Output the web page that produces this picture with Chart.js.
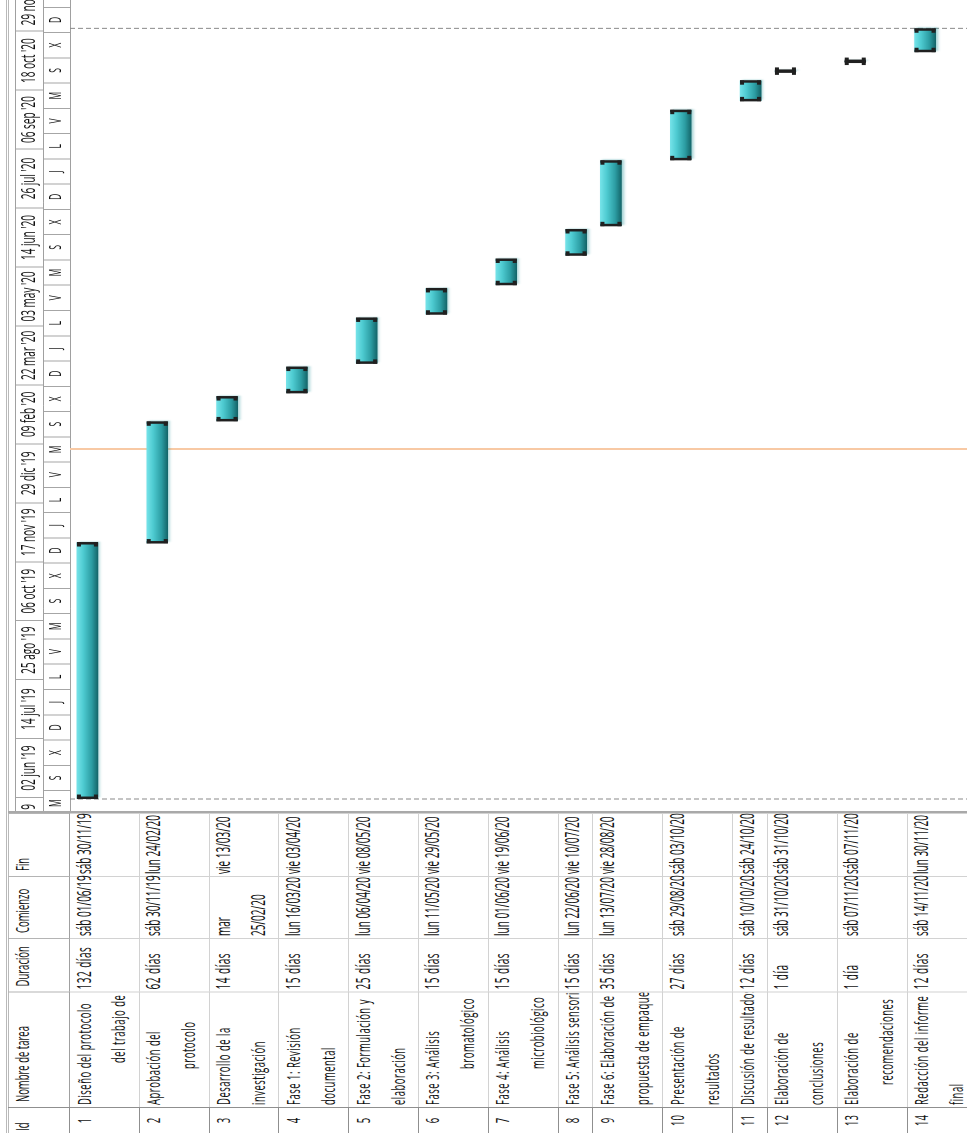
<!DOCTYPE html>
<html lang="es">
<head>
<meta charset="utf-8">
<title>Cronograma del proyecto</title>
<script src="https://cdn.jsdelivr.net/npm/chart.js@4.4.1/dist/chart.umd.min.js"></script>
<style>
  html, body { margin: 0; padding: 0; background: #ffffff; }
  body { width: 967px; height: 1133px; overflow: hidden; position: relative; }
  /* La vista se arma en horizontal (como en MS Project) y después se gira */
  #vista {
    position: absolute; left: 0; top: 0;
    width: 2266px; height: 967px; overflow: hidden;
    transform-origin: 0 0;
    transform: translate(0, 1133px) rotate(-90deg) scale(0.5, 1);
    font-family: "Open Sans", sans-serif;
    color: #111111;
    background: #ffffff;
  }
  .marco { position: absolute; left: 0; width: 2266px; height: 1px; background: #b9b9b9; }
  #tabla { position: absolute; left: 0; top: 8px; width: 640px; }
  .fila { display: flex; box-sizing: border-box; }
  .celda {
    box-sizing: border-box; height: 100%;
    border-right: 2px solid #d2d2d2; border-bottom: 1px solid #d2d2d2;
    padding-left: 4px; overflow: hidden; white-space: nowrap;
    font-size: 19px; line-height: 34.9px;
  }
  .celda .texto { position: relative; top: -3.5px; }
  .celda.visible { overflow: visible; }
  .celda.nombre { letter-spacing: 1px; }
  .celda.duracion { font-size: 20px; letter-spacing: 1px; }
  .celda.fechas { font-size: 20px; }
  .fecha { white-space: normal; }
  .encabezado .celda {
    font-size: 19px; line-height: 24px; padding-top: 2px; padding-left: 10px;
    letter-spacing: 0; border-right-color: #b4b4b4; border-bottom: 1px solid #a0a0a0;
  }
  .encabezado .celda .texto { top: 0; }
  .celda.id { text-align: center; padding-left: 0; border-right-color: #8f8f8f; border-bottom-color: #8f8f8f; }
  .encabezado .celda.id { text-align: left; padding-left: 4px; }
  #divisor { position: absolute; left: 640px; top: 8px; width: 4px; height: 959px; background: #a9a9a9; }
  #gantt { position: absolute; left: 644px; top: 15px; width: 1622px; height: 952px; }
  #borde-escala { position: absolute; left: 644px; top: 15px; width: 1622px; height: 1px; background: #a0a0a0; }
</style>
</head>
<body>
<div id="vista">
  <div class="marco" style="top:6px"></div>
  <div class="marco" style="top:8px"></div>
  <div id="tabla"></div>
  <div id="divisor"></div>
  <div id="gantt"><canvas id="grafico" width="1622" height="952"></canvas></div>
  <div id="borde-escala"></div>
</div>
<script>
// ---- Datos de las tareas ----
const ids = [1, 2, 3, 4, 5, 6, 7, 8, 9, 10, 11, 12, 13, 14];
const nombres = [
    'Diseño del protocolo\ndel trabajo de',
    'Aprobación del\nprotocolo',
    'Desarrollo de la\ninvestigación',
    'Fase 1: Revisión\ndocumental',
    'Fase 2: Formulación y\nelaboración',
    'Fase 3: Análisis\nbromatológico',
    'Fase 4: Análisis\nmicrobiológico',
    'Fase 5: Análisis sensorial',
    'Fase 6: Elaboración de\npropuesta de empaque',
    'Presentación de\nresultados',
    'Discusión de resultados',
    'Elaboración de\nconclusiones',
    'Elaboración de\nrecomendaciones',
    'Redacción del informe\nfinal'
];
const duraciones = [132, 62, 14, 15, 25, 15, 15, 15, 35, 27, 12, 1, 1, 12];
const inicios = ['2019-06-01', '2019-11-30', '2020-02-25', '2020-03-16', '2020-04-06', '2020-05-11', '2020-06-01',
                 '2020-06-22', '2020-07-13', '2020-08-29', '2020-10-10', '2020-10-31', '2020-11-07', '2020-11-14'];
const fines = ['2019-11-30', '2020-02-24', '2020-03-13', '2020-04-03', '2020-05-08', '2020-05-29', '2020-06-19',
               '2020-07-10', '2020-08-28', '2020-10-03', '2020-10-24', '2020-10-31', '2020-11-07', '2020-11-30'];

// ---- Escala temporal ----
const etiquetasSup = ["21 abr '19", "02 jun '19", "14 jul '19", "25 ago '19", "06 oct '19", "17 nov '19", "29 dic '19",
                      "09 feb '20", "22 mar '20", "03 may '20", "14 jun '20", "26 jul '20", "06 sep '20", "18 oct '20", "29 nov '20"];
const inicioSup = '2019-04-21';
const pasoSup = 42;
const letrasInf = ['M', 'S', 'X', 'D', 'J', 'L', 'V', 'M', 'S', 'X', 'D', 'J', 'L', 'V', 'M', 'S', 'X',
                   'D', 'J', 'L', 'V', 'M', 'S', 'X', 'D', 'J', 'L', 'V', 'M', 'S', 'X', 'D', 'J'];
const inicioInf = '2019-05-20';
const pasoInf = 18;

// fecha de estado (línea naranja)
const fechaEstado = '2020-02-05';

// ---- Maquetación ----
const altoLinea = 34.9;
const lineasFila = [2, 2, 2, 2, 2, 2, 2, 1, 2, 2, 1, 2, 2, 2];
const sangriaLinea2 = [84, 72, 0, 0, 0, 72, 72, 0, 0, 0, 0, 0, 40, 0];
const anchosColumna = [52, 231, 107, 124, 126];
const grosorBarra = 21;
const diaMin = -8.55;
const diaMax = 569.2;
const altoNivelSup = 28;
const altoNivelInf = 27;
const horaInicio = 8 / 24;
const horaFin = 17 / 24;
const fuenteFechas = '20px "Open Sans"';

const origen = Date.UTC(2019, 5, 1);
function dia(iso) {
    const [a, m, d] = iso.split('-').map(Number);
    return (Date.UTC(a, m - 1, d) - origen) / 86400000;
}
const nombresDia = ['dom', 'lun', 'mar', 'mié', 'jue', 'vie', 'sáb'];
function textoFecha(iso) {
    const [a, m, d] = iso.split('-').map(Number);
    const f = new Date(Date.UTC(a, m - 1, d));
    return `${nombresDia[f.getUTCDay()]} ${String(d).padStart(2, '0')}/${String(m).padStart(2, '0')}/${String(a).slice(2)}`;
}

// ancho de las fechas: cabe un "sáb dd/mm/aa", lo que sea más largo se parte
const medidor = document.createElement('canvas').getContext('2d');
medidor.font = fuenteFechas;
const anchoFecha = medidor.measureText(textoFecha(inicios[0])).width + 1;

// ---- Tabla de tareas ----
const tabla = document.getElementById('tabla');

function celda(fila, ancho, clase) {
    const c = document.createElement('div');
    c.className = 'celda ' + (clase || '');
    c.style.width = ancho + 'px';
    const t = document.createElement('div');
    t.className = 'texto';
    c.appendChild(t);
    fila.appendChild(c);
    return t;
}

const encabezado = document.createElement('div');
encabezado.className = 'fila encabezado';
encabezado.style.height = '62px';
['Id', 'Nombre de tarea', 'Duración', 'Comienzo', 'Fin'].forEach((txt, j) => {
    celda(encabezado, anchosColumna[j], j === 0 ? 'id' : '').textContent = txt;
});
tabla.appendChild(encabezado);

ids.forEach((id, i) => {
    const fila = document.createElement('div');
    fila.className = 'fila';
    fila.style.height = (lineasFila[i] * altoLinea) + 'px';

    celda(fila, anchosColumna[0], 'id').textContent = id;

    const nombre = celda(fila, anchosColumna[1], 'nombre');
    nombres[i].split('\n').forEach((linea, k) => {
        const l = document.createElement('div');
        l.textContent = linea;
        if (k > 0) l.style.paddingLeft = sangriaLinea2[i] + 'px';
        nombre.appendChild(l);
    });

    celda(fila, anchosColumna[2], 'duracion').textContent = duraciones[i] + (duraciones[i] === 1 ? ' día' : ' días');

    [inicios[i], fines[i]].forEach((fecha, k) => {
        const t = celda(fila, anchosColumna[3 + k], 'visible fechas');
        t.classList.add('fecha');
        t.style.width = anchoFecha + 'px';
        t.textContent = textoFecha(fecha);
    });

    tabla.appendChild(fila);
});

// ---- Diagrama de Gantt ----
const posFila = [];
let acumulado = 0;
lineasFila.forEach(n => {
    posFila.push(acumulado + 0.5);
    acumulado += n;
});

const centrosSup = etiquetasSup.map((_, k) => dia(inicioSup) + pasoSup * k + pasoSup / 2);
const centrosInf = letrasInf.map((_, k) => dia(inicioInf) + pasoInf * k + pasoInf / 2);

function degradado(contexto) {
    const chart = contexto.chart;
    const escalaY = chart.scales.y;
    if (contexto.type !== 'data' || !escalaY) return '#3bb4ba';
    const yc = escalaY.getPixelForValue(posFila[contexto.dataIndex]);
    if (!isFinite(yc)) return '#3bb4ba';
    const g = chart.ctx.createLinearGradient(0, yc - grosorBarra / 2, 0, yc + grosorBarra / 2);
    g.addColorStop(0, '#74e2e8');
    g.addColorStop(0.3, '#4ecbd1');
    g.addColorStop(0.7, '#2c9da3');
    g.addColorStop(1, '#14666a');
    return g;
}

function nivel(peso, alto, centros, etiquetas, tamFuente) {
    const altoTexto = tamFuente * 1.2;
    return {
        axis: 'x',
        type: 'linear',
        position: 'top',
        weight: peso,
        min: diaMin,
        max: diaMax,
        bounds: 'data',
        afterBuildTicks: escala => {
            escala.ticks = centros.map(v => ({ value: v }));
        },
        afterFit: escala => {
            escala.height = alto;
            escala.paddingLeft = 0;
            escala.paddingRight = 0;
        },
        grid: { offset: true, drawOnChartArea: false, drawTicks: true, tickLength: alto, color: '#a6a6a6', lineWidth: 2 },
        border: { display: true, color: '#a0a0a0', width: 1 },
        ticks: {
            autoSkip: false,
            maxRotation: 0,
            minRotation: 0,
            padding: -(alto + altoTexto) / 2,
            color: '#111111',
            font: { family: 'Open Sans', size: tamFuente },
            callback: (valor, k) => etiquetas[k]
        }
    };
}

// líneas de inicio/fin del proyecto y fecha de estado
const pluginLineas = {
    id: 'lineasProyecto',
    beforeDatasetsDraw(chart) {
        const { ctx, chartArea, scales: { x } } = chart;
        ctx.save();
        ctx.lineWidth = 2;
        ctx.strokeStyle = '#8a8a8a';
        ctx.setLineDash([5, 3]);
        [dia(inicios[0]), dia(fines[fines.length - 1]) + 1].forEach(d => {
            const px = x.getPixelForValue(d);
            ctx.beginPath();
            ctx.moveTo(px, chartArea.top);
            ctx.lineTo(px, chartArea.bottom);
            ctx.stroke();
        });
        ctx.setLineDash([]);
        ctx.lineWidth = 4;
        ctx.strokeStyle = '#f8c9a4';
        const pe = x.getPixelForValue(dia(fechaEstado) + horaInicio);
        ctx.beginPath();
        ctx.moveTo(pe, chartArea.top);
        ctx.lineTo(pe, chartArea.bottom);
        ctx.stroke();
        ctx.restore();
    }
};

// sombra suave de las barras
const pluginSombra = {
    id: 'sombra',
    beforeDatasetsDraw(chart) {
        const ctx = chart.ctx;
        ctx.save();
        ctx.shadowColor = 'rgba(40, 150, 155, 0.45)';
        ctx.shadowBlur = 3;
        ctx.shadowOffsetX = 2;
        ctx.shadowOffsetY = 2;
    },
    afterDatasetsDraw(chart) {
        chart.ctx.restore();
    }
};

// remates oscuros en los extremos de cada barra
const pluginRemates = {
    id: 'remates',
    afterDatasetsDraw(chart) {
        const ctx = chart.ctx;
        ctx.save();
        ctx.fillStyle = '#202020';
        chart.getDatasetMeta(0).data.forEach(barra => {
            const { x, y, base, height } = barra.getProps(['x', 'y', 'base', 'height'], true);
            const x0 = Math.min(x, base);
            const x1 = Math.max(x, base);
            const arriba = y - height / 2;
            const abajo = y + height / 2;
            ctx.fillRect(x0 - 1, arriba, 5, height);
            ctx.fillRect(x0 - 1, arriba, 9, 4);
            ctx.fillRect(x0 - 1, abajo - 4, 9, 4);
            ctx.fillRect(x1 - 4, arriba, 5, height);
            ctx.fillRect(x1 - 8, arriba, 9, 4);
            ctx.fillRect(x1 - 8, abajo - 4, 9, 4);
        });
        ctx.restore();
    }
};

const altoArea = 952 - altoNivelSup - altoNivelInf;

new Chart(document.getElementById('grafico'), {
    type: 'bar',
    data: {
        datasets: [{
            label: 'Tareas',
            data: inicios.map((ini, i) => ({
                x: [dia(ini) + horaInicio, dia(fines[i]) + horaFin],
                y: posFila[i]
            })),
            backgroundColor: degradado,
            borderWidth: 0,
            borderSkipped: false,
            barThickness: grosorBarra,
            xAxisID: 'x',
            yAxisID: 'y'
        }]
    },
    options: {
        indexAxis: 'y',
        responsive: false,
        animation: false,
        devicePixelRatio: 1,
        events: [],
        layout: { padding: 0, autoPadding: false },
        plugins: {
            legend: { display: false },
            tooltip: { enabled: false }
        },
        scales: {
            x: { type: 'linear', min: diaMin, max: diaMax, bounds: 'data', display: false },
            y: { type: 'linear', min: 0, max: altoArea / altoLinea, reverse: true, offset: false, display: false },
            xInf: nivel(1, altoNivelInf, centrosInf, letrasInf, 17),
            xSup: nivel(2, altoNivelSup, centrosSup, etiquetasSup, 20)
        }
    },
    plugins: [pluginLineas, pluginSombra, pluginRemates]
});
</script>
</body>
</html>
